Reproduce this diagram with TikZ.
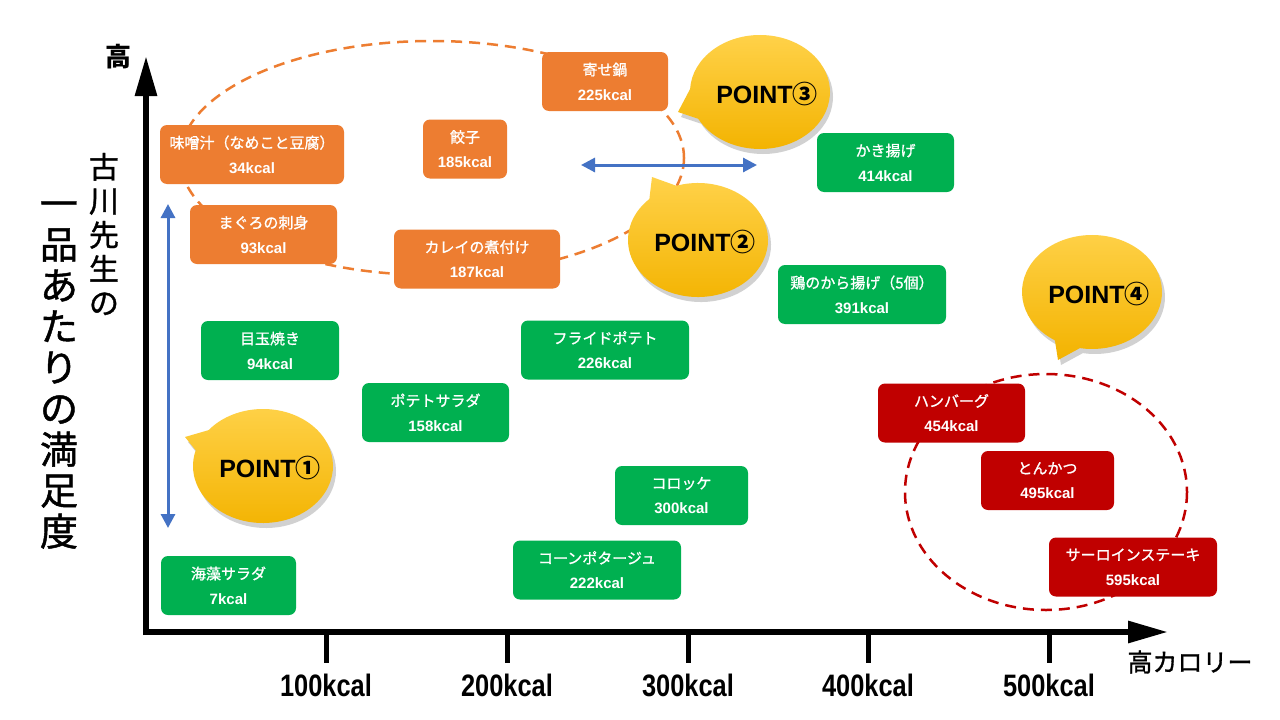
\documentclass[tikz,border=0pt]{standalone}
\usepackage{fontspec}
\setmainfont{Liberation Sans}
\newfontfamily\jpfont{Noto Sans CJK JP}
\newfontfamily\jpmid[FakeBold=1.2]{Noto Sans CJK JP}
\newfontfamily\narrowfont[FakeStretch=0.82]{Liberation Sans}
\usetikzlibrary{arrows.meta}
\usetikzlibrary{positioning}

\definecolor{foodorange}{HTML}{ED7D31}
\definecolor{foodgreen}{HTML}{00B050}
\definecolor{foodred}{HTML}{C00000}
\definecolor{rangeblue}{HTML}{4472C4}
\definecolor{pointtop}{HTML}{FFD24A}
\definecolor{pointbot}{HTML}{F3B300}

\tikzset{
  food/.style={rounded corners=7pt,minimum height=59pt,inner sep=0pt,align=center,
    text=white,font=\fontsize{15}{25}\selectfont},
  axisline/.style={line width=6pt,-{Triangle[width=21pt,length=40pt]}},
  tickline/.style={line width=5pt},
  ticklabel/.style={font=\narrowfont\bfseries\fontsize{31}{31}\selectfont,inner sep=0pt},
  rangearrow/.style={rangeblue,line width=3pt,{Triangle[width=14pt,length=14pt]}-{Triangle[width=14pt,length=14pt]}},
  groupring/.style={line width=2.5pt,dash pattern=on 11pt off 7pt},
  pointlabel/.style={font=\bfseries\fontsize{25}{25}\selectfont,inner sep=0pt}
}

\begin{document}
\begin{tikzpicture}[x=1pt,y=-1pt]

  \fill[white] (0,0) rectangle (1280,720);
  \useasboundingbox (0,0) rectangle (1280,720);

  % groups
  \draw[groupring,foodorange] (432,158) ellipse [x radius=252,y radius=117];
  \draw[groupring,foodred] (1046,492) ellipse [x radius=141,y radius=118];

  % axes
  \coordinate (origin) at (146,635);
  \coordinate (xstart) at (143,632);
  \coordinate (xend) at (1168,632);
  \coordinate (yend) at (146,56);
  \draw[axisline] (origin) -- (yend);
  \draw[axisline] (xstart) -- (xend);

  \foreach \i/\x in {1/326,2/507,3/688,4/868,5/1049} {
    \draw[tickline] (\x,632) coordinate (tt\i) -- (\x,663) coordinate (tb\i);
    \node[ticklabel,below=11pt of tb\i] (tl\i) {\i00kcal};
  }

  \node[font=\jpmid\fontsize{25}{25}\selectfont,inner sep=0pt] (xlab) at (1190,662) {高カロリー};
  \node[font=\jpfont\bfseries\fontsize{26}{26}\selectfont,inner sep=0pt] (ytop) at (118,57) {高};
  \node[font=\jpmid\fontsize{30}{34}\selectfont,align=center,inner sep=0pt] (ylab1) at (104,234)
    {古\\川\\先\\生\\の};
  \node[font=\jpmid\fontsize{38}{41}\selectfont,align=center,inner sep=0pt] (ylab2) at (59,375)
    {一\\品\\あ\\た\\り\\の\\満\\足\\度};

  % foods
  \foreach \nm/\cx/\cy/\w/\food/\kcal in {
      miso/252/154.5/184/味噌汁（なめこと豆腐）/34,
      maguro/263.5/234.5/147/まぐろの刺身/93,
      gyoza/465/149/84/餃子/185,
      yosenabe/605/81.5/126/寄せ鍋/225,
      karei/477/259/166/カレイの煮付け/187}
    \node[food,fill=foodorange,minimum width=\w pt] (\nm) at (\cx,\cy) {{\jpmid \food}\\\textbf{\kcal kcal}};

  \foreach \nm/\cx/\cy/\w/\food/\kcal in {
      kakiage/885.5/162.5/137/かき揚げ/414,
      karaage/862/294.5/168/鶏のから揚げ（5個）/391,
      medamayaki/270/350.5/138/目玉焼き/94,
      fries/605/350/168/フライドポテト/226,
      potesara/435.5/412.5/147/ポテトサラダ/158,
      korokke/681.5/495.5/133/コロッケ/300,
      corn/597/570/168/コーンポタージュ/222,
      kaiso/228.5/585.5/135/海藻サラダ/7}
    \node[food,fill=foodgreen,minimum width=\w pt] (\nm) at (\cx,\cy) {{\jpmid \food}\\\textbf{\kcal kcal}};

  \foreach \nm/\cx/\cy/\w/\food/\kcal in {
      hamburg/951.5/413/147/ハンバーグ/454,
      tonkatsu/1047.5/480.5/133/とんかつ/495,
      sirloin/1133/567/168/サーロインステーキ/595}
    \node[food,fill=foodred,minimum width=\w pt] (\nm) at (\cx,\cy) {{\jpmid \food}\\\textbf{\kcal kcal}};

  % ranges
  \coordinate (vtop) at (168,204);
  \coordinate (vbot) at (168,528);
  \coordinate (hleft) at (581,165);
  \coordinate (hright) at (757,165);
  \draw[rangearrow] (vtop) -- (vbot);
  \draw[rangearrow] (hleft) -- (hright);

  % points
  \foreach \nm/\cx/\cy/\a/\b/\tx/\ty/\num in {
      point1/263/466/219/556/185/437/①,
      point2/698/240/252/586/652/177/②,
      point3/760/92/183/512/678/112/③,
      point4/1092/292/122/460/1058/360/④} {
    \fill[black,opacity=.18] ([shift={(3,5)}]\cx,\cy) ++(\a:70 and 57)
      arc[start angle=\a,end angle=\b,x radius=70,y radius=57] -- ([shift={(3,5)}]\tx,\ty) -- cycle;
    \shade[top color=pointtop,bottom color=pointbot] (\cx,\cy) ++(\a:70 and 57)
      arc[start angle=\a,end angle=\b,x radius=70,y radius=57] -- (\tx,\ty) -- cycle;
    \node[pointlabel] (\nm) at (\cx+7,\cy+2) {POINT{\jpfont \num}};
  }

\end{tikzpicture}
\end{document}
